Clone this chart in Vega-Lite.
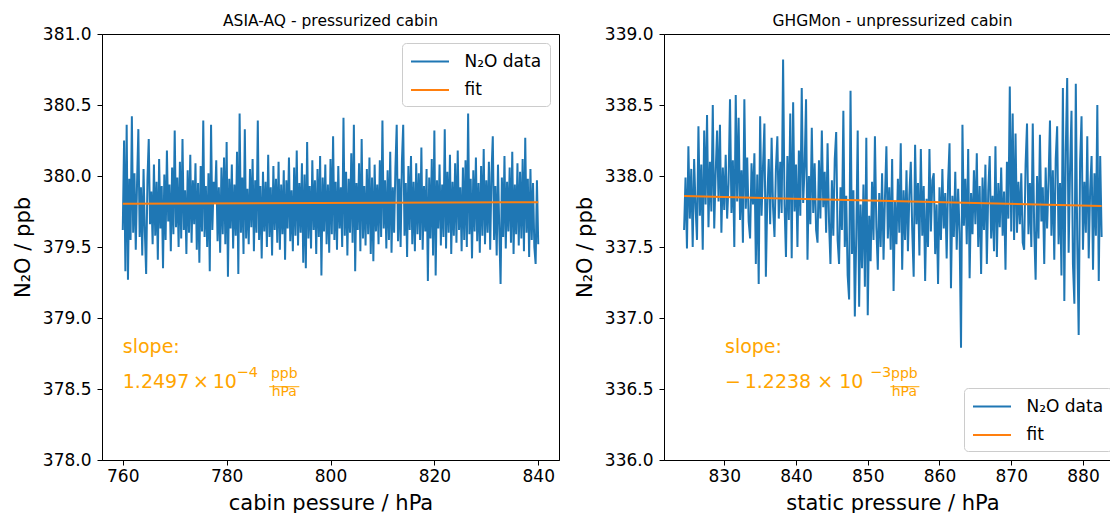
{
"$schema": "https://vega.github.io/schema/vega-lite/v6.json",
"background": "white",
"padding": {"left": 11, "top": 13, "right": 0, "bottom": 0},
"config": {
  "font": "DejaVu Sans",
  "view": {"stroke": "black", "strokeWidth": 1},
  "axis": {"grid": false, "domainColor": "black", "tickColor": "black", "labelColor": "black", "titleColor": "black", "labelFont": "DejaVu Sans", "titleFont": "DejaVu Sans", "labelFontSize": 17, "titleFontSize": 21, "titleFontWeight": "normal", "tickSize": 5, "domainWidth": 1, "tickWidth": 1},
  "axisX": {"labelPadding": 3, "titlePadding": 8, "labelFlush": false},
  "axisY": {"labelPadding": 6, "titlePadding": 9},
  "title": {"font": "DejaVu Sans", "fontSize": 15.5, "fontWeight": "normal", "color": "black", "offset": -4, "baseline": "alphabetic"},
  "legend": {"title": null, "fillColor": "white", "strokeColor": "#cccccc", "cornerRadius": 4, "padding": 8, "symbolType": "M-2,0H2", "symbolSize": 361, "symbolOffset": 9.5, "symbolStrokeWidth": 2, "labelFont": "DejaVu Sans", "labelFontSize": 17, "labelColor": "black", "labelOffset": 24, "rowPadding": 9.4, "offset": 9}
},
"datasets": {
"asia": [
{"p":760,"v":379.62},{"p":760.25,"v":380.25},{"p":760.5,"v":379.33},{"p":760.75,"v":380.36},{"p":761,"v":379.27},{"p":761.25,"v":379.98},{"p":761.5,"v":379.55},{"p":761.75,"v":380.42},{"p":762,"v":379.60},{"p":762.25,"v":380.02},{"p":762.5,"v":379.48},{"p":762.75,"v":379.95},{"p":763,"v":380.33},{"p":763.25,"v":379.57},{"p":763.5,"v":379.92},{"p":763.75,"v":379.44},{"p":764,"v":380.05},{"p":764.25,"v":379.61},{"p":764.5,"v":379.31},{"p":764.75,"v":379.97},
{"p":765,"v":380.26},{"p":765.25,"v":379.66},{"p":765.5,"v":379.89},{"p":765.75,"v":379.52},{"p":766,"v":380.08},{"p":766.25,"v":379.58},{"p":766.5,"v":379.96},{"p":766.75,"v":379.41},{"p":767,"v":380.12},{"p":767.25,"v":379.63},{"p":767.5,"v":379.93},{"p":767.75,"v":379.35},{"p":768,"v":380.01},{"p":768.25,"v":379.55},{"p":768.5,"v":380.18},{"p":768.75,"v":379.68},{"p":769,"v":379.94},{"p":769.25,"v":379.47},{"p":769.5,"v":380.06},{"p":769.75,"v":379.59},
{"p":770,"v":380.32},{"p":770.25,"v":379.64},{"p":770.5,"v":379.99},{"p":770.75,"v":379.50},{"p":771,"v":380.10},{"p":771.25,"v":379.56},{"p":771.5,"v":380.26},{"p":771.75,"v":379.62},{"p":772,"v":379.90},{"p":772.25,"v":379.45},{"p":772.5,"v":380.04},{"p":772.75,"v":379.60},{"p":773,"v":380.15},{"p":773.25,"v":379.53},{"p":773.5,"v":379.97},{"p":773.75,"v":379.66},{"p":774,"v":380.09},{"p":774.25,"v":379.48},{"p":774.5,"v":379.95},{"p":774.75,"v":379.39},
{"p":775,"v":380.07},{"p":775.25,"v":379.61},{"p":775.5,"v":380.39},{"p":775.75,"v":379.57},{"p":776,"v":379.93},{"p":776.25,"v":379.50},{"p":776.5,"v":380.02},{"p":776.75,"v":379.33},{"p":777,"v":380.36},{"p":777.25,"v":379.62},{"p":777.5,"v":379.96},{"p":777.75,"v":379.81},{"p":778,"v":380.11},{"p":778.25,"v":379.54},{"p":778.5,"v":379.92},{"p":778.75,"v":379.46},{"p":779,"v":380.06},{"p":779.25,"v":379.59},{"p":779.5,"v":380.13},{"p":779.75,"v":379.52},
{"p":780,"v":380.24},{"p":780.25,"v":379.29},{"p":780.5,"v":379.98},{"p":780.75,"v":379.63},{"p":781,"v":380.08},{"p":781.25,"v":379.49},{"p":781.5,"v":379.94},{"p":781.75,"v":379.58},{"p":782,"v":380.17},{"p":782.25,"v":379.31},{"p":782.5,"v":380.44},{"p":782.75,"v":379.60},{"p":783,"v":379.99},{"p":783.25,"v":379.45},{"p":783.5,"v":380.33},{"p":783.75,"v":379.56},{"p":784,"v":379.91},{"p":784.25,"v":379.52},{"p":784.5,"v":380.05},{"p":784.75,"v":379.64},
{"p":785,"v":380.12},{"p":785.25,"v":379.47},{"p":785.5,"v":379.97},{"p":785.75,"v":379.60},{"p":786,"v":380.39},{"p":786.25,"v":379.55},{"p":786.5,"v":379.93},{"p":786.75,"v":379.42},{"p":787,"v":380.03},{"p":787.25,"v":379.61},{"p":787.5,"v":379.96},{"p":787.75,"v":379.50},{"p":788,"v":380.15},{"p":788.25,"v":379.57},{"p":788.5,"v":379.92},{"p":788.75,"v":379.44},{"p":789,"v":380.07},{"p":789.25,"v":379.62},{"p":789.5,"v":379.98},{"p":789.75,"v":379.53},
{"p":790,"v":380.10},{"p":790.25,"v":379.48},{"p":790.5,"v":379.94},{"p":790.75,"v":379.59},{"p":791,"v":380.04},{"p":791.25,"v":379.41},{"p":791.5,"v":379.97},{"p":791.75,"v":379.63},{"p":792,"v":380.13},{"p":792.25,"v":379.54},{"p":792.5,"v":379.90},{"p":792.75,"v":379.47},{"p":793,"v":380.06},{"p":793.25,"v":379.58},{"p":793.5,"v":380.18},{"p":793.75,"v":379.51},{"p":794,"v":379.95},{"p":794.25,"v":379.60},{"p":794.5,"v":380.09},{"p":794.75,"v":379.39},
{"p":795,"v":380.01},{"p":795.25,"v":379.35},{"p":795.5,"v":380.24},{"p":795.75,"v":379.56},{"p":796,"v":379.93},{"p":796.25,"v":379.49},{"p":796.5,"v":380.11},{"p":796.75,"v":379.62},{"p":797,"v":379.97},{"p":797.25,"v":379.45},{"p":797.5,"v":380.05},{"p":797.75,"v":379.57},{"p":798,"v":380.14},{"p":798.25,"v":379.30},{"p":798.5,"v":379.99},{"p":798.75,"v":379.61},{"p":799,"v":380.08},{"p":799.25,"v":379.52},{"p":799.5,"v":379.94},{"p":799.75,"v":379.46},
{"p":800,"v":380.12},{"p":800.25,"v":379.59},{"p":800.5,"v":380.28},{"p":800.75,"v":379.55},{"p":801,"v":379.96},{"p":801.25,"v":379.48},{"p":801.5,"v":380.07},{"p":801.75,"v":379.63},{"p":802,"v":379.92},{"p":802.25,"v":379.50},{"p":802.5,"v":380.41},{"p":802.75,"v":379.58},{"p":803,"v":380.03},{"p":803.25,"v":379.44},{"p":803.5,"v":379.98},{"p":803.75,"v":379.60},{"p":804,"v":380.16},{"p":804.25,"v":379.53},{"p":804.5,"v":380.36},{"p":804.75,"v":379.33},
{"p":805,"v":379.95},{"p":805.25,"v":379.62},{"p":805.5,"v":380.09},{"p":805.75,"v":379.47},{"p":806,"v":380.26},{"p":806.25,"v":379.56},{"p":806.5,"v":379.93},{"p":806.75,"v":379.51},{"p":807,"v":380.05},{"p":807.25,"v":379.59},{"p":807.5,"v":380.13},{"p":807.75,"v":379.45},{"p":808,"v":379.99},{"p":808.25,"v":379.40},{"p":808.5,"v":380.08},{"p":808.75,"v":379.61},{"p":809,"v":379.94},{"p":809.25,"v":379.52},{"p":809.5,"v":380.11},{"p":809.75,"v":379.57},
{"p":810,"v":380.39},{"p":810.25,"v":379.63},{"p":810.5,"v":379.97},{"p":810.75,"v":379.49},{"p":811,"v":380.04},{"p":811.25,"v":379.55},{"p":811.5,"v":380.17},{"p":811.75,"v":379.46},{"p":812,"v":379.92},{"p":812.25,"v":379.60},{"p":812.5,"v":380.06},{"p":812.75,"v":380.36},{"p":813,"v":379.54},{"p":813.25,"v":379.98},{"p":813.5,"v":379.50},{"p":813.75,"v":380.10},{"p":814,"v":380.36},{"p":814.25,"v":379.58},{"p":814.5,"v":379.95},{"p":814.75,"v":379.43},
{"p":815,"v":380.07},{"p":815.25,"v":379.62},{"p":815.5,"v":380.14},{"p":815.75,"v":379.52},{"p":816,"v":379.96},{"p":816.25,"v":379.47},{"p":816.5,"v":380.09},{"p":816.75,"v":379.59},{"p":817,"v":380.02},{"p":817.25,"v":379.55},{"p":817.5,"v":380.20},{"p":817.75,"v":379.48},{"p":818,"v":379.93},{"p":818.25,"v":379.61},{"p":818.5,"v":380.05},{"p":818.75,"v":379.26},{"p":819,"v":379.99},{"p":819.25,"v":379.56},{"p":819.5,"v":380.12},{"p":819.75,"v":379.44},
{"p":820,"v":380.32},{"p":820.25,"v":379.30},{"p":820.5,"v":379.97},{"p":820.75,"v":379.63},{"p":821,"v":380.08},{"p":821.25,"v":379.51},{"p":821.5,"v":379.94},{"p":821.75,"v":379.57},{"p":822,"v":380.33},{"p":822.25,"v":379.49},{"p":822.5,"v":380.03},{"p":822.75,"v":379.60},{"p":823,"v":380.15},{"p":823.25,"v":379.45},{"p":823.5,"v":379.96},{"p":823.75,"v":379.58},{"p":824,"v":380.09},{"p":824.25,"v":379.53},{"p":824.5,"v":380.18},{"p":824.75,"v":379.62},
{"p":825,"v":379.92},{"p":825.25,"v":379.47},{"p":825.5,"v":380.06},{"p":825.75,"v":379.55},{"p":826,"v":380.11},{"p":826.25,"v":379.50},{"p":826.5,"v":380.44},{"p":826.75,"v":379.59},{"p":827,"v":379.98},{"p":827.25,"v":379.42},{"p":827.5,"v":380.04},{"p":827.75,"v":379.61},{"p":828,"v":380.13},{"p":828.25,"v":379.54},{"p":828.5,"v":379.95},{"p":828.75,"v":379.46},{"p":829,"v":380.07},{"p":829.25,"v":379.58},{"p":829.5,"v":380.19},{"p":829.75,"v":379.52},
{"p":830,"v":379.97},{"p":830.25,"v":379.60},{"p":830.5,"v":380.10},{"p":830.75,"v":379.48},{"p":831,"v":380.02},{"p":831.25,"v":380.28},{"p":831.5,"v":379.55},{"p":831.75,"v":379.93},{"p":832,"v":379.44},{"p":832.25,"v":380.08},{"p":832.5,"v":379.62},{"p":832.75,"v":379.24},{"p":833,"v":379.99},{"p":833.25,"v":379.57},{"p":833.5,"v":380.14},{"p":833.75,"v":379.49},{"p":834,"v":379.96},{"p":834.25,"v":379.61},{"p":834.5,"v":380.06},{"p":834.75,"v":379.53},
{"p":835,"v":380.17},{"p":835.25,"v":379.45},{"p":835.5,"v":379.94},{"p":835.75,"v":379.59},{"p":836,"v":380.09},{"p":836.25,"v":379.51},{"p":836.5,"v":380.03},{"p":836.75,"v":379.56},{"p":837,"v":380.12},{"p":837.25,"v":379.47},{"p":837.5,"v":380.27},{"p":837.75,"v":379.60},{"p":838,"v":379.98},{"p":838.25,"v":379.43},{"p":838.5,"v":380.05},{"p":838.75,"v":379.55},{"p":839,"v":379.95},{"p":839.25,"v":379.50},{"p":839.5,"v":379.38},{"p":839.75,"v":379.97},
{"p":840,"v":379.52}
],
"asia_fit": [{"p":760,"v":379.805},{"p":840,"v":379.815}],
"asia_txt": [{"p":760,"v":378.751,"t":"slope:"},{"p":760,"v":378.505,"t":"1.2497\u2009\u00d7\u200910"}],
"asia_exp": [{"p":781.9,"v":378.587,"t":"\u22124"}],
"asia_frac": [{"p":791.1,"v":378.575,"t":"ppb"},{"p":791.1,"v":378.451,"t":"hPa"}],
"asia_bar": [{"p":788.2,"p2":794.0,"v":378.516}],
"ghg": [
{"p":824.4,"v":337.62},{"p":824.6,"v":337.99},{"p":824.8,"v":337.49},{"p":825.0,"v":338.21},{"p":825.2,"v":337.70},{"p":825.4,"v":338.05},{"p":825.6,"v":337.50},{"p":825.8,"v":338.12},{"p":826.0,"v":337.78},{"p":826.2,"v":337.55},
{"p":826.4,"v":338.35},{"p":826.6,"v":337.72},{"p":826.8,"v":338.08},{"p":827.0,"v":337.48},{"p":827.2,"v":338.32},{"p":827.4,"v":337.80},{"p":827.6,"v":338.43},{"p":827.8,"v":337.64},{"p":828.0,"v":338.10},{"p":828.2,"v":337.75},
{"p":828.4,"v":338.50},{"p":828.6,"v":337.63},{"p":828.8,"v":338.02},{"p":829.0,"v":338.32},{"p":829.2,"v":337.82},{"p":829.4,"v":338.36},{"p":829.6,"v":337.60},{"p":829.8,"v":338.06},{"p":830.0,"v":337.76},{"p":830.2,"v":338.15},
{"p":830.4,"v":337.70},{"p":830.6,"v":337.95},{"p":830.8,"v":338.54},{"p":831.0,"v":337.74},{"p":831.2,"v":338.11},{"p":831.4,"v":337.50},{"p":831.6,"v":338.57},{"p":831.8,"v":337.82},{"p":832.0,"v":338.41},{"p":832.2,"v":337.69},
{"p":832.4,"v":338.04},{"p":832.6,"v":337.53},{"p":832.8,"v":338.54},{"p":833.0,"v":337.77},{"p":833.2,"v":338.13},{"p":833.4,"v":337.68},{"p":833.6,"v":337.56},{"p":833.8,"v":338.09},{"p":834.0,"v":337.80},{"p":834.2,"v":338.16},
{"p":834.4,"v":337.38},{"p":834.6,"v":338.01},{"p":834.8,"v":337.24},{"p":835.0,"v":338.42},{"p":835.2,"v":337.72},{"p":835.4,"v":338.07},{"p":835.6,"v":338.37},{"p":835.8,"v":337.29},{"p":836.0,"v":337.85},{"p":836.2,"v":338.12},
{"p":836.4,"v":337.66},{"p":836.6,"v":338.27},{"p":836.8,"v":337.78},{"p":837.0,"v":337.57},{"p":837.2,"v":338.05},{"p":837.4,"v":338.28},{"p":837.6,"v":337.70},{"p":837.8,"v":338.10},{"p":838.0,"v":337.74},{"p":838.2,"v":338.82},
{"p":838.4,"v":337.80},{"p":838.6,"v":337.43},{"p":838.8,"v":338.14},{"p":839.0,"v":337.69},{"p":839.2,"v":338.44},{"p":839.4,"v":337.42},{"p":839.6,"v":338.52},{"p":839.8,"v":337.75},{"p":840.0,"v":338.08},{"p":840.2,"v":337.50},
{"p":840.4,"v":338.18},{"p":840.6,"v":337.72},{"p":840.8,"v":338.62},{"p":841.0,"v":337.81},{"p":841.2,"v":338.06},{"p":841.4,"v":338.54},{"p":841.6,"v":337.41},{"p":841.8,"v":338.00},{"p":842.0,"v":337.66},{"p":842.2,"v":338.34},
{"p":842.4,"v":337.74},{"p":842.6,"v":338.09},{"p":842.8,"v":337.62},{"p":843.0,"v":337.53},{"p":843.2,"v":338.11},{"p":843.4,"v":337.70},{"p":843.6,"v":338.32},{"p":843.8,"v":337.78},{"p":844.0,"v":338.03},{"p":844.2,"v":337.60},
{"p":844.4,"v":338.23},{"p":844.6,"v":337.68},{"p":844.8,"v":337.38},{"p":845.0,"v":337.97},{"p":845.2,"v":337.58},{"p":845.4,"v":338.12},{"p":845.6,"v":338.31},{"p":845.8,"v":337.55},{"p":846.0,"v":337.38},{"p":846.2,"v":337.92},
{"p":846.4,"v":337.62},{"p":846.6,"v":338.46},{"p":846.8,"v":337.50},{"p":847.0,"v":337.86},{"p":847.2,"v":337.30},{"p":847.4,"v":337.13},{"p":847.6,"v":338.60},{"p":847.8,"v":337.45},{"p":848.0,"v":337.90},{"p":848.2,"v":337.01},
{"p":848.4,"v":337.58},{"p":848.6,"v":338.32},{"p":848.8,"v":337.08},{"p":849.0,"v":337.80},{"p":849.2,"v":337.35},{"p":849.4,"v":337.94},{"p":849.6,"v":337.22},{"p":849.8,"v":338.27},{"p":850.0,"v":337.02},{"p":850.2,"v":337.72},
{"p":850.4,"v":337.40},{"p":850.6,"v":337.96},{"p":850.8,"v":337.55},{"p":851.0,"v":338.28},{"p":851.2,"v":337.64},{"p":851.4,"v":337.34},{"p":851.6,"v":337.88},{"p":851.8,"v":337.50},{"p":852.0,"v":338.02},{"p":852.2,"v":337.41},
{"p":852.4,"v":337.85},{"p":852.6,"v":338.21},{"p":852.8,"v":337.56},{"p":853.0,"v":337.92},{"p":853.2,"v":337.48},{"p":853.4,"v":338.12},{"p":853.6,"v":337.19},{"p":853.8,"v":337.82},{"p":854.0,"v":337.52},{"p":854.2,"v":337.98},
{"p":854.4,"v":337.60},{"p":854.6,"v":338.23},{"p":854.8,"v":337.34},{"p":855.0,"v":337.90},{"p":855.2,"v":337.55},{"p":855.4,"v":338.04},{"p":855.6,"v":337.47},{"p":855.8,"v":337.87},{"p":856.0,"v":338.10},{"p":856.2,"v":337.62},
{"p":856.4,"v":337.29},{"p":856.6,"v":338.22},{"p":856.8,"v":337.66},{"p":857.0,"v":337.95},{"p":857.2,"v":337.44},{"p":857.4,"v":338.19},{"p":857.6,"v":337.58},{"p":857.8,"v":337.93},{"p":858.0,"v":337.26},{"p":858.2,"v":337.84},
{"p":858.4,"v":337.50},{"p":858.6,"v":338.19},{"p":858.8,"v":337.61},{"p":859.0,"v":337.97},{"p":859.2,"v":338.02},{"p":859.4,"v":337.45},{"p":859.6,"v":337.80},{"p":859.8,"v":337.24},{"p":860.0,"v":337.92},{"p":860.2,"v":337.55},
{"p":860.4,"v":338.05},{"p":860.6,"v":337.63},{"p":860.8,"v":337.88},{"p":861.0,"v":337.42},{"p":861.2,"v":337.96},{"p":861.4,"v":338.23},{"p":861.6,"v":337.21},{"p":861.8,"v":337.86},{"p":862.0,"v":337.57},{"p":862.2,"v":338.03},
{"p":862.4,"v":337.48},{"p":862.6,"v":337.91},{"p":862.8,"v":337.60},{"p":863.0,"v":336.79},{"p":863.2,"v":338.36},{"p":863.4,"v":337.65},{"p":863.6,"v":337.98},{"p":863.8,"v":337.52},{"p":864.0,"v":338.19},{"p":864.2,"v":337.28},
{"p":864.4,"v":337.88},{"p":864.6,"v":337.59},{"p":864.8,"v":338.04},{"p":865.0,"v":337.66},{"p":865.2,"v":338.16},{"p":865.4,"v":337.50},{"p":865.6,"v":337.93},{"p":865.8,"v":337.31},{"p":866.0,"v":337.99},{"p":866.2,"v":337.62},
{"p":866.4,"v":338.08},{"p":866.6,"v":337.38},{"p":866.8,"v":337.90},{"p":867.0,"v":338.14},{"p":867.2,"v":337.56},{"p":867.4,"v":337.86},{"p":867.6,"v":337.47},{"p":867.8,"v":338.21},{"p":868.0,"v":337.43},{"p":868.2,"v":337.95},
{"p":868.4,"v":337.64},{"p":868.6,"v":338.06},{"p":868.8,"v":337.58},{"p":869.0,"v":337.89},{"p":869.2,"v":337.34},{"p":869.4,"v":338.10},{"p":869.6,"v":337.70},{"p":869.8,"v":338.63},{"p":870.0,"v":337.61},{"p":870.2,"v":338.44},
{"p":870.4,"v":337.55},{"p":870.6,"v":338.30},{"p":870.8,"v":337.60},{"p":871.0,"v":337.96},{"p":871.2,"v":337.66},{"p":871.4,"v":338.02},{"p":871.6,"v":337.53},{"p":871.8,"v":337.48},{"p":872.0,"v":338.08},{"p":872.2,"v":338.37},
{"p":872.4,"v":337.59},{"p":872.6,"v":337.95},{"p":872.8,"v":337.50},{"p":873.0,"v":338.37},{"p":873.2,"v":337.62},{"p":873.4,"v":337.27},{"p":873.6,"v":338.00},{"p":873.8,"v":337.56},{"p":874.0,"v":338.29},{"p":874.2,"v":337.68},
{"p":874.4,"v":337.92},{"p":874.6,"v":337.38},{"p":874.8,"v":338.06},{"p":875.0,"v":337.63},{"p":875.2,"v":337.97},{"p":875.4,"v":338.39},{"p":875.6,"v":337.58},{"p":875.8,"v":338.04},{"p":876.0,"v":337.41},{"p":876.2,"v":338.12},
{"p":876.4,"v":338.35},{"p":876.6,"v":337.52},{"p":876.8,"v":337.95},{"p":877.0,"v":337.30},{"p":877.2,"v":338.62},{"p":877.4,"v":337.12},{"p":877.6,"v":338.18},{"p":877.8,"v":338.69},{"p":878.0,"v":337.46},{"p":878.2,"v":338.05},
{"p":878.4,"v":338.46},{"p":878.6,"v":337.38},{"p":878.8,"v":337.10},{"p":879.0,"v":338.65},{"p":879.2,"v":337.55},{"p":879.4,"v":336.88},{"p":879.6,"v":338.10},{"p":879.8,"v":338.42},{"p":880.0,"v":337.48},{"p":880.2,"v":337.96},
{"p":880.4,"v":337.60},{"p":880.6,"v":338.28},{"p":880.8,"v":337.42},{"p":881.0,"v":337.90},{"p":881.2,"v":338.14},{"p":881.4,"v":337.34},{"p":881.6,"v":338.02},{"p":881.8,"v":337.58},{"p":882.0,"v":338.50},{"p":882.2,"v":337.26},
{"p":882.4,"v":338.14},{"p":882.6,"v":337.57}
],
"ghg_fit": [{"p":824.4,"v":337.859},{"p":882.6,"v":337.788}],
"ghg_txt": [{"p":830.1,"v":336.751,"t":"slope:"},{"p":830.1,"v":336.505,"t":"\u2212\u20091.2238 \u00d7 10"}],
"ghg_exp": [{"p":850.3,"v":336.587,"t":"\u22123"}],
"ghg_frac": [{"p":855.1,"v":336.575,"t":"ppb"},{"p":855.1,"v":336.451,"t":"hPa"}],
"ghg_bar": [{"p":853.15,"p2":857.2,"v":336.516}]
},
"spacing": 13,
"resolve": {"scale": {"color": "independent"}, "legend": {"color": "independent"}},
"hconcat": [
{
  "width": 457, "height": 426,
  "title": "ASIA-AQ - pressurized cabin",
  "encoding": {
    "x": {"field": "p", "type": "quantitative", "scale": {"domain": [756, 844], "nice": false, "zero": false}, "axis": {"title": "cabin pessure / hPa", "values": [760, 780, 800, 820, 840]}},
    "y": {"field": "v", "type": "quantitative", "scale": {"domain": [378, 381], "nice": false, "zero": false}, "axis": {"title": "N\u2082O / ppb", "values": [378, 378.5, 379, 379.5, 380, 380.5, 381], "format": ".1f"}}
  },
  "layer": [
    {"data": {"name": "asia"}, "mark": {"type": "line", "strokeWidth": 2},
     "encoding": {"color": {"datum": "N\u2082O data", "type": "nominal", "scale": {"domain": ["N\u2082O data", "fit"], "range": ["#1f77b4", "#ff7f0e"]}, "legend": {"orient": "top-right"}}}},
    {"data": {"name": "asia_fit"}, "mark": {"type": "line", "strokeWidth": 2},
     "encoding": {"color": {"datum": "fit", "type": "nominal"}}},
    {"data": {"name": "asia_txt"}, "mark": {"type": "text", "align": "left", "baseline": "alphabetic", "fontSize": 19, "color": "#FFA500", "font": "DejaVu Sans"},
     "encoding": {"text": {"field": "t"}}},
    {"data": {"name": "asia_exp"}, "mark": {"type": "text", "align": "left", "baseline": "alphabetic", "fontSize": 14.5, "color": "#FFA500", "font": "DejaVu Sans"},
     "encoding": {"text": {"field": "t"}}},
    {"data": {"name": "asia_frac"}, "mark": {"type": "text", "align": "center", "baseline": "alphabetic", "fontSize": 14, "color": "#FFA500", "font": "DejaVu Sans"},
     "encoding": {"text": {"field": "t"}}},
    {"data": {"name": "asia_bar"}, "mark": {"type": "rule", "color": "#FFA500", "strokeWidth": 1},
     "encoding": {"x2": {"field": "p2"}}}
  ]
},
{
  "width": 457, "height": 426,
  "title": "GHGMon - unpressurized cabin",
  "encoding": {
    "x": {"field": "p", "type": "quantitative", "scale": {"domain": [821.6, 885.3], "nice": false, "zero": false}, "axis": {"title": "static pressure / hPa", "values": [830, 840, 850, 860, 870, 880]}},
    "y": {"field": "v", "type": "quantitative", "scale": {"domain": [336, 339], "nice": false, "zero": false}, "axis": {"title": "N\u2082O / ppb", "values": [336, 336.5, 337, 337.5, 338, 338.5, 339], "format": ".1f"}}
  },
  "layer": [
    {"data": {"name": "ghg"}, "mark": {"type": "line", "strokeWidth": 2},
     "encoding": {"color": {"datum": "N\u2082O data", "type": "nominal", "scale": {"domain": ["N\u2082O data", "fit"], "range": ["#1f77b4", "#ff7f0e"]}, "legend": {"orient": "bottom-right"}}}},
    {"data": {"name": "ghg_fit"}, "mark": {"type": "line", "strokeWidth": 2},
     "encoding": {"color": {"datum": "fit", "type": "nominal"}}},
    {"data": {"name": "ghg_txt"}, "mark": {"type": "text", "align": "left", "baseline": "alphabetic", "fontSize": 19, "color": "#FFA500", "font": "DejaVu Sans"},
     "encoding": {"text": {"field": "t"}}},
    {"data": {"name": "ghg_exp"}, "mark": {"type": "text", "align": "left", "baseline": "alphabetic", "fontSize": 14.5, "color": "#FFA500", "font": "DejaVu Sans"},
     "encoding": {"text": {"field": "t"}}},
    {"data": {"name": "ghg_frac"}, "mark": {"type": "text", "align": "center", "baseline": "alphabetic", "fontSize": 14, "color": "#FFA500", "font": "DejaVu Sans"},
     "encoding": {"text": {"field": "t"}}},
    {"data": {"name": "ghg_bar"}, "mark": {"type": "rule", "color": "#FFA500", "strokeWidth": 1},
     "encoding": {"x2": {"field": "p2"}}}
  ]
}
]
}
